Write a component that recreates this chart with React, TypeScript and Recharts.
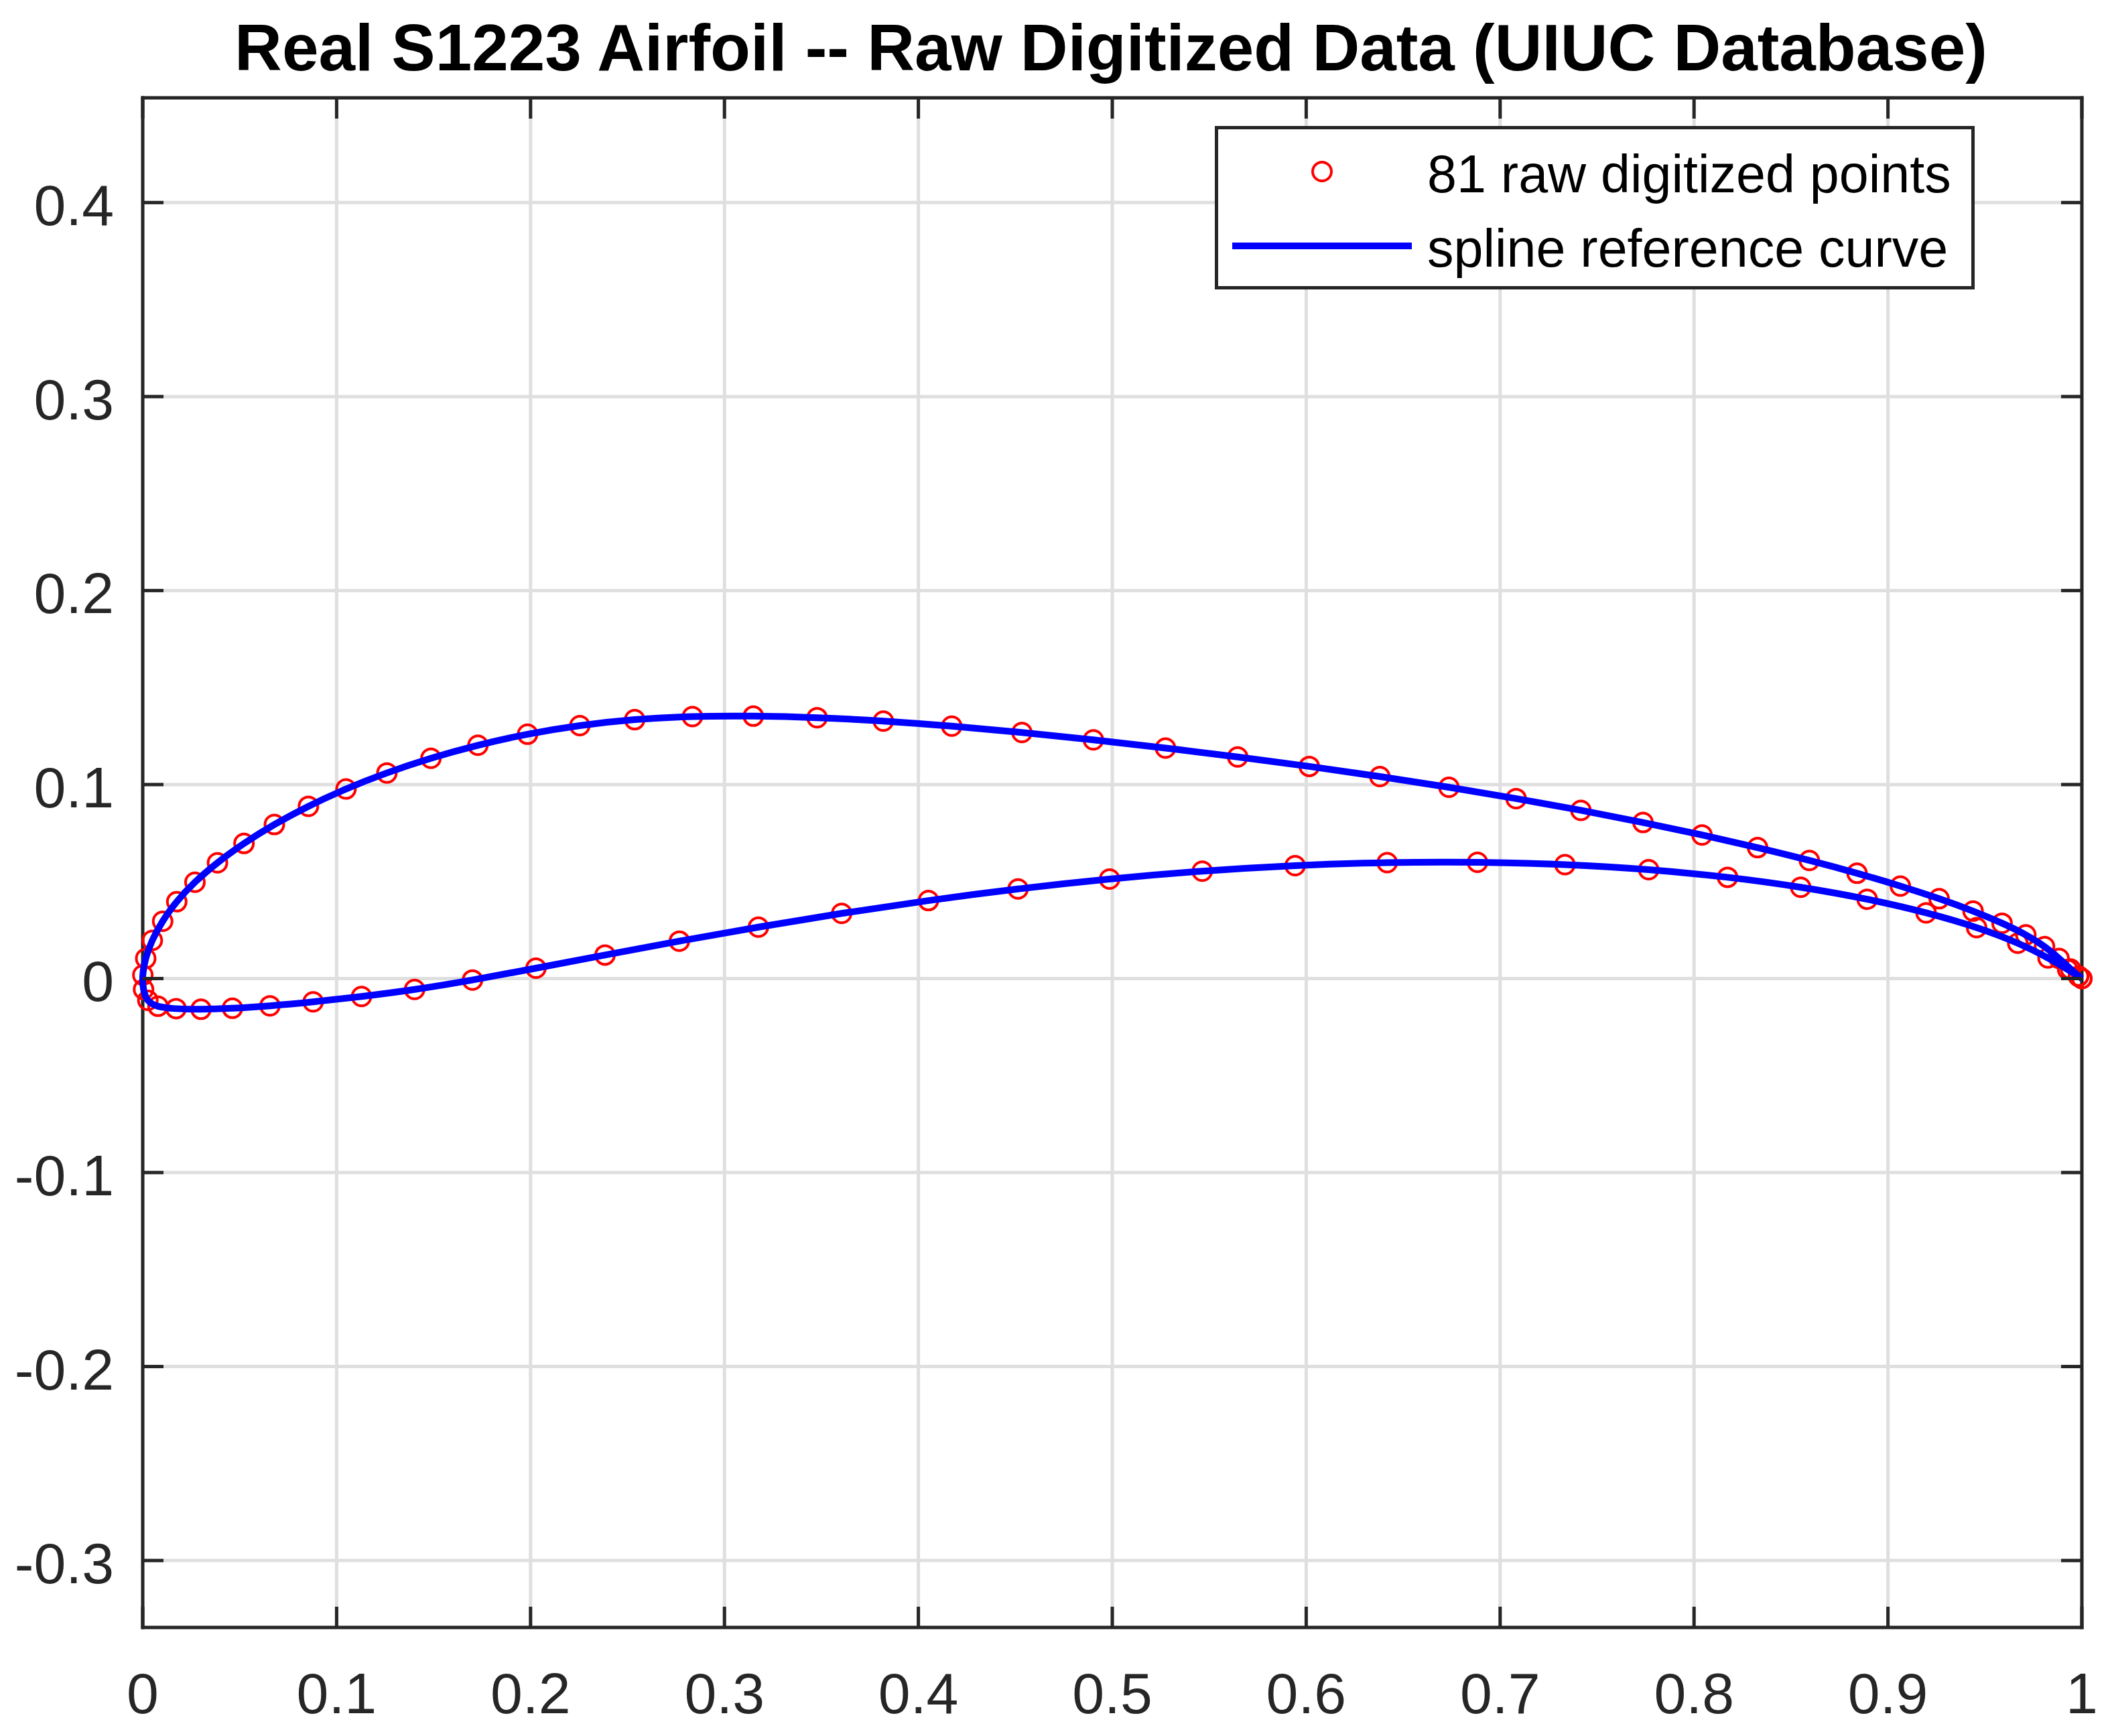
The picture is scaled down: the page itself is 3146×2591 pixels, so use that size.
import { ScatterChart, Scatter, XAxis, YAxis, CartesianGrid, Legend } from 'recharts'

// S1223 coordinates (UIUC, Selig order): trailing edge -> upper surface -> leading edge -> lower surface -> trailing edge
const X_COORDS = [
  1.0, 0.99838, 0.99417, 0.98825, 0.98075, 0.97111, 0.95884, 0.94389, 0.92639, 0.90641,
  0.88406, 0.85947, 0.83277, 0.80412, 0.77369, 0.74166, 0.70823, 0.6736, 0.63798, 0.60158,
  0.56465, 0.52744, 0.49025, 0.4534, 0.41721, 0.38193, 0.34777, 0.31488, 0.28347, 0.2537,
  0.22541, 0.19846, 0.17286, 0.14863, 0.12591, 0.10482, 0.08545, 0.06789, 0.05223, 0.03855,
  0.02694, 0.01755, 0.01028, 0.00495, 0.00155, 0.00005, 0.00044, 0.00264, 0.00789, 0.01718,
  0.03006, 0.04627, 0.06561, 0.08787, 0.11282, 0.1402, 0.17006, 0.20278, 0.2384, 0.27673,
  0.3175, 0.36044, 0.40519, 0.45139, 0.4986, 0.54639, 0.59428, 0.64176, 0.68832, 0.73344,
  0.7766, 0.81729, 0.855, 0.88928, 0.91966, 0.94573, 0.96693, 0.98255, 0.99268, 0.99825,
  1.0,
]
const Y_COORDS = [
  0.0, 0.00126, 0.00494, 0.01037, 0.01646, 0.0225, 0.02853, 0.03476, 0.04116, 0.04768,
  0.05427, 0.06089, 0.06749, 0.07402, 0.08044, 0.08671, 0.09277, 0.09859, 0.10412, 0.10935,
  0.11425, 0.11881, 0.12303, 0.12683, 0.13011, 0.13271, 0.13447, 0.13526, 0.13505, 0.13346,
  0.13037, 0.12594, 0.12026, 0.11355, 0.10598, 0.0977, 0.08879, 0.0794, 0.06965, 0.05968,
  0.04966, 0.03961, 0.02954, 0.01969, 0.01033, 0.00178, -0.00561, -0.0112, -0.01427, -0.0155,
  -0.01584, -0.01532, -0.01404, -0.01202, -0.00925, -0.00563, -0.00075, 0.00535, 0.01213, 0.01928,
  0.02652, 0.03358, 0.04021, 0.04618, 0.05129, 0.05534, 0.0582, 0.05976, 0.05994, 0.05872,
  0.05612, 0.05219, 0.04706, 0.04088, 0.03387, 0.02624, 0.01822, 0.0106, 0.00468, 0.00115,
  0.0,
]

const X_TICKS = [0, 0.1, 0.2, 0.3, 0.4, 0.5, 0.6, 0.7, 0.8, 0.9, 1]
const Y_TICKS = [-0.3, -0.2, -0.1, 0, 0.1, 0.2, 0.3, 0.4]
const X_LIMITS = [0, 1]
const Y_LIMITS = [-0.3345, 0.454]

const TITLE = 'Real S1223 Airfoil -- Raw Digitized Data (UIUC Database)'
const POINTS_NAME = '81 raw digitized points'
const CURVE_NAME = 'spline reference curve'

const points = X_COORDS.map((x, i) => ({ x, y: Y_COORDS[i] }))

const AXIS = '#262626'
const FONT = '"Liberation Sans", Arial, Helvetica, sans-serif'
const TICK_LEN = 31

const fmt = (v: number) => (v === 0 ? '0' : String(v))

function BottomTick({ x, y, payload }: any) {
  return (
    <g>
      <line x1={x} y1={y} x2={x} y2={y - TICK_LEN} stroke={AXIS} strokeWidth={5} />
      <text x={x} y={y + 128} textAnchor="middle" fontSize={86} fill={AXIS} fontFamily={FONT}>
        {fmt(payload.value)}
      </text>
    </g>
  )
}

function LeftTick({ x, y, payload }: any) {
  return (
    <g>
      <line x1={x} y1={y} x2={x + TICK_LEN} y2={y} stroke={AXIS} strokeWidth={5} />
      <text x={x - 43} y={y + 34} textAnchor="end" fontSize={86} fill={AXIS} fontFamily={FONT}>
        {fmt(payload.value)}
      </text>
    </g>
  )
}

function TopTick({ x, y }: any) {
  return <line x1={x} y1={y} x2={x} y2={y + TICK_LEN} stroke={AXIS} strokeWidth={5} />
}

function RightTick({ x, y }: any) {
  return <line x1={x} y1={y} x2={x - TICK_LEN} y2={y} stroke={AXIS} strokeWidth={5} />
}

function Ring({ cx, cy }: any) {
  return <circle cx={cx} cy={cy} r={14} fill="none" stroke="#ff0000" strokeWidth={4} />
}

function NoMarker() {
  return <g />
}

function AirfoilLegend({ payload }: any) {
  const rows = payload || []
  return (
    <svg width={1134} height={244} style={{ display: 'block' }}>
      <rect x={2.5} y={2.5} width={1129} height={239} fill="#fff" stroke={AXIS} strokeWidth={5} />
      {rows.map((entry: any, i: number) => {
        const cy = 68 + i * 111
        return (
          <g key={entry.value}>
            {entry.type === 'circle' ? (
              <circle cx={160} cy={cy} r={14} fill="none" stroke="#ff0000" strokeWidth={4} />
            ) : (
              <line x1={26} y1={cy} x2={294} y2={cy} stroke="#0000ff" strokeWidth={10} />
            )}
            <text x={317} y={cy + 31} fontSize={79} fill="#000" fontFamily={FONT}>
              {entry.value}
            </text>
          </g>
        )
      })}
    </svg>
  )
}

export default function App() {
  return (
    <div style={{ position: 'absolute', left: 0, top: 0, width: 3146, height: 2591, background: '#fff' }}>
      <ScatterChart width={3146} height={2591} margin={{ top: 145, right: 38, bottom: 0, left: 0 }}>
        <CartesianGrid stroke="#dfdfdf" strokeWidth={5} />
        <XAxis
          type="number"
          dataKey="x"
          domain={X_LIMITS}
          ticks={X_TICKS}
          interval={0}
          height={162}
          tickSize={0}
          tickMargin={0}
          tickLine={false}
          axisLine={{ stroke: AXIS, strokeWidth: 5, strokeLinecap: 'square' }}
          tick={<BottomTick />}
        />
        <XAxis
          xAxisId="top"
          orientation="top"
          type="number"
          dataKey="x"
          domain={X_LIMITS}
          ticks={X_TICKS}
          interval={0}
          height={1}
          tickSize={0}
          tickMargin={0}
          tickLine={false}
          axisLine={{ stroke: AXIS, strokeWidth: 5, strokeLinecap: 'square' }}
          tick={<TopTick />}
        />
        <YAxis
          type="number"
          dataKey="y"
          domain={Y_LIMITS}
          ticks={Y_TICKS}
          interval={0}
          width={213}
          tickSize={0}
          tickMargin={0}
          tickLine={false}
          axisLine={{ stroke: AXIS, strokeWidth: 5, strokeLinecap: 'square' }}
          tick={<LeftTick />}
        />
        <YAxis
          yAxisId="right"
          orientation="right"
          type="number"
          dataKey="y"
          domain={Y_LIMITS}
          ticks={Y_TICKS}
          interval={0}
          width={1}
          tickSize={0}
          tickMargin={0}
          tickLine={false}
          axisLine={{ stroke: AXIS, strokeWidth: 5, strokeLinecap: 'square' }}
          tick={<RightTick />}
        />
        <Scatter
          name={POINTS_NAME}
          data={points}
          fill="#ff0000"
          legendType="circle"
          shape={<Ring />}
          isAnimationActive={false}
        />
        <Scatter
          name={CURVE_NAME}
          data={points}
          xAxisId="top"
          yAxisId="right"
          fill="#0000ff"
          legendType="line"
          shape={<NoMarker />}
          line={{ stroke: '#0000ff', strokeWidth: 10, strokeLinejoin: 'round' }}
          lineJointType="natural"
          isAnimationActive={false}
        />
        <Legend
          layout="vertical"
          align="center"
          verticalAlign="middle"
          width={1134}
          height={244}
          wrapperStyle={{ left: 1813, top: 188, width: 1134, height: 244 }}
          content={<AirfoilLegend />}
        />
      </ScatterChart>
      <svg
        width={3146}
        height={140}
        style={{ position: 'absolute', left: 0, top: 0, pointerEvents: 'none' }}
      >
        <text x={1658} y={105} textAnchor="middle" fontSize={98} fontWeight="bold" fill="#000" fontFamily={FONT}>
          {TITLE}
        </text>
      </svg>
    </div>
  )
}
